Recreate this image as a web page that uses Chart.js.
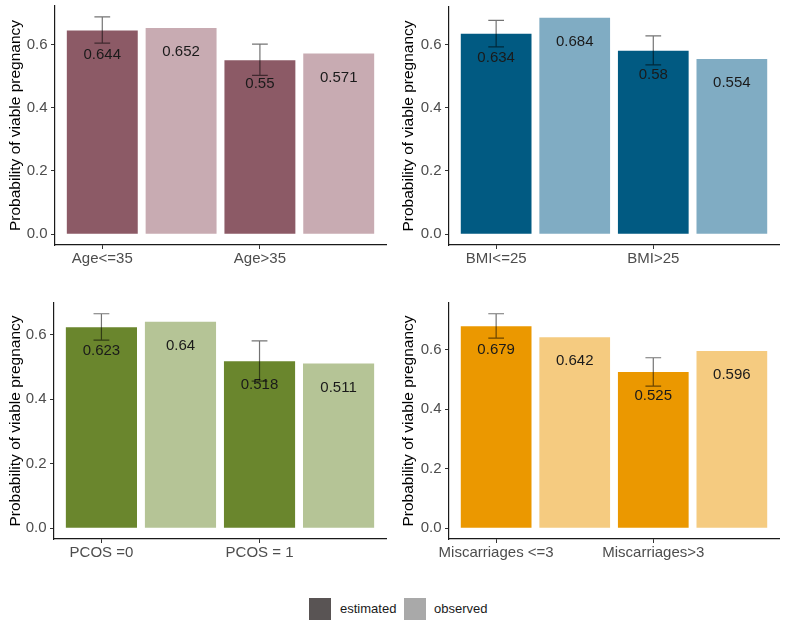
<!DOCTYPE html>
<html lang="en">
<head>
  <meta charset="UTF-8">
  <title>Probability of viable pregnancy</title>
  <script src="https://cdn.jsdelivr.net/npm/chart.js"></script>
  <style>
    body { margin: 0; background: #fff; }
    #wrap { position: relative; width: 787px; height: 630px; font-family: "Liberation Sans", Arial, sans-serif; }
    .panel { position: absolute; }
    .panel canvas { display: block; }
    .key { position: absolute; top: 598px; width: 22px; height: 22px; }
    .keytxt { position: absolute; top: 601px; font-size: 13px; color: #1a1a1a; line-height: 16px; }
  </style>
</head>
<body>
  <div id="wrap">
    <div class="panel" style="left:0;top:0"><canvas id="c0" width="393" height="290"></canvas></div>
    <div class="panel" style="left:393px;top:0"><canvas id="c1" width="394" height="290"></canvas></div>
    <div class="panel" style="left:0;top:290px"><canvas id="c2" width="393" height="290"></canvas></div>
    <div class="panel" style="left:393px;top:290px"><canvas id="c3" width="394" height="290"></canvas></div>

    <div class="key" style="left:309px;background:#595454"></div>
    <span class="keytxt" style="left:340px">estimated</span>
    <div class="key" style="left:404px;background:#a9a9a9"></div>
    <span class="keytxt" style="left:434px">observed</span>
  </div>

  <script>
    // data
    const groupLabels = [
      ['Age<=35', 'Age>35'],
      ['BMI<=25', 'BMI>25'],
      ['PCOS =0', 'PCOS = 1'],
      ['Miscarriages <=3', 'Miscarriages>3']
    ];
    const estimated = [[0.644, 0.55], [0.634, 0.58], [0.623, 0.518], [0.679, 0.525]];
    const observed  = [[0.652, 0.571], [0.684, 0.554], [0.64, 0.511], [0.642, 0.596]];
    const ciLower   = [[0.604, 0.502], [0.592, 0.535], [0.583, 0.456], [0.639, 0.478]];
    const ciUpper   = [[0.687, 0.601], [0.676, 0.627], [0.665, 0.581], [0.721, 0.573]];
    const yTicks = [0, 0.2, 0.4, 0.6];

    const estColors = ['#8c5a66', '#015a82', '#6a862d', '#eb9800'];
    const obsColors = ['#c8abb2', '#80acc3', '#b5c496', '#f5cb80'];

    const layouts = [
      { pad: { top: 6, right: 7, left: 0, bottom: 0 }, yW: 55, xH: 45 },
      { pad: { top: 7, right: 8, left: 0, bottom: 0 }, yW: 56, xH: 45 },
      { pad: { top: 13, right: 7, left: 0, bottom: 0 }, yW: 54, xH: 41 },
      { pad: { top: 13, right: 8, left: 0, bottom: 0 }, yW: 56, xH: 41 }
    ];

    const FONT = '"Liberation Sans", Arial, sans-serif';

    // value labels inside the bars + error bars on estimated bars
    const annotate = {
      id: 'annotate',
      afterDatasetsDraw(chart) {
        const ctx = chart.ctx;
        const xs = chart.scales.x, ys = chart.scales.y;
        ctx.save();
        ctx.font = '15px ' + FONT;
        ctx.fillStyle = '#1a1a1a';
        ctx.textAlign = 'center';
        ctx.textBaseline = 'middle';
        chart.data.datasets.forEach((ds, di) => {
          chart.getDatasetMeta(di).data.forEach((bar, j) => {
            ctx.fillText(String(ds.data[j].y), bar.x, bar.y + 24);
          });
        });
        chart.data.datasets.forEach(ds => {
          if (!ds.lower) return;
          ds.data.forEach((pt, j) => {
            const x = xs.getPixelForValue(pt.x);
            const x0 = xs.getPixelForValue(pt.x - 0.1);
            const x1 = xs.getPixelForValue(pt.x + 0.1);
            const yl = ys.getPixelForValue(ds.lower[j]);
            const yu = ys.getPixelForValue(ds.upper[j]);
            ctx.strokeStyle = 'rgba(0,0,0,0.55)';
            ctx.lineWidth = 1.2;
            ctx.beginPath();
            ctx.moveTo(x, yl); ctx.lineTo(x, yu);
            ctx.moveTo(x0, yu); ctx.lineTo(x1, yu);
            ctx.moveTo(x0, yl); ctx.lineTo(x1, yl);
            ctx.stroke();
          });
        });
        ctx.restore();
      }
    };

    groupLabels.forEach((labels, i) => {
      const top = Math.max(...ciUpper[i], ...observed[i], ...estimated[i]);
      const lay = layouts[i];
      new Chart(document.getElementById('c' + i), {
        type: 'bar',
        data: {
          datasets: [
            {
              label: 'estimated',
              data: estimated[i].map((v, k) => ({ x: 2 * k, y: v })),
              lower: ciLower[i],
              upper: ciUpper[i],
              backgroundColor: estColors[i]
            },
            {
              label: 'observed',
              data: observed[i].map((v, k) => ({ x: 2 * k + 1, y: v })),
              backgroundColor: obsColors[i]
            }
          ]
        },
        options: {
          responsive: false,
          animation: false,
          events: [],
          layout: { padding: lay.pad },
          datasets: { bar: { grouped: false, categoryPercentage: 0.9, barPercentage: 1 } },
          plugins: { legend: { display: false }, tooltip: { enabled: false } },
          scales: {
            x: {
              type: 'linear',
              min: -0.6,
              max: 3.6,
              offset: false,
              afterBuildTicks: s => { s.ticks = [{ value: 0 }, { value: 2 }]; },
              afterFit: s => { s.height = lay.xH; s.paddingLeft = 0; s.paddingRight = 0; },
              ticks: {
                autoSkip: false,
                maxRotation: 0,
                padding: 1,
                color: '#4d4d4d',
                font: { family: FONT, size: 15 },
                callback: (v, idx) => labels[idx]
              },
              grid: { display: true, offset: false, drawOnChartArea: false, drawTicks: true, tickLength: 4, color: '#333' },
              border: { display: true, color: '#1a1a1a', width: 1.2 }
            },
            y: {
              min: -0.05 * top,
              max: 1.05 * top,
              afterBuildTicks: s => { s.ticks = yTicks.map(v => ({ value: v })); },
              afterFit: s => { s.width = lay.yW; s.paddingTop = 0; s.paddingBottom = 0; },
              ticks: {
                padding: 3.5,
                color: '#4d4d4d',
                font: { family: FONT, size: 15 },
                callback: v => v.toFixed(1)
              },
              grid: { display: true, drawOnChartArea: false, drawTicks: true, tickLength: 4, color: '#333' },
              border: { display: true, color: '#1a1a1a', width: 1.2 },
              title: {
                display: true,
                text: 'Probability of viable pregnancy',
                color: '#000',
                font: { family: FONT, size: 15.5 },
                padding: { top: 6, bottom: 0 }
              }
            }
          }
        },
        plugins: [annotate]
      });
    });
  </script>
</body>
</html>
